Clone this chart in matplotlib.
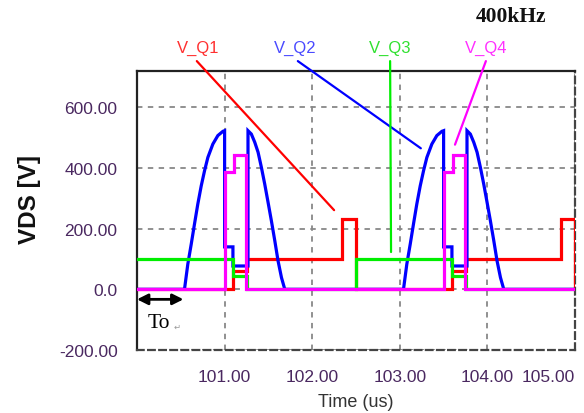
import numpy as np
import matplotlib
matplotlib.use("Agg")
import matplotlib.pyplot as plt

# switching period at 400 kHz, in us
period = 2.5

# one switching cycle of each drain-source voltage (time in us, volts)
q1_t = [100.0, 101.095, 101.095, 101.255, 101.255, 102.34, 102.34, 102.5, 102.5]
q1_v = [0, 0, 60, 60, 100, 100, 232, 232, 0]

q2_t = [100.0, 100.542, 100.58, 100.619, 100.656, 100.694, 100.733, 100.771, 100.809,
        100.866, 100.923, 100.981, 101.0, 101.0, 101.095, 101.095, 101.267, 101.267,
        101.305, 101.344, 101.382, 101.42, 101.458, 101.496, 101.534, 101.573, 101.61,
        101.649, 101.687, 102.5]
q2_v = [0, 0, 83, 149, 215, 281, 341, 391, 435,
        479, 507, 521, 523, 140, 140, 77, 77, 523,
        512, 485, 452, 402, 347, 287, 226, 160, 94,
        39, 0, 0]

q3_t = [100.0, 101.095, 101.095, 101.25, 101.25, 102.5]
q3_v = [101, 101, 44, 44, 0, 0]

q4_t = [100.0, 101.008, 101.008, 101.103, 101.103, 101.248, 101.248, 102.5]
q4_v = [0, 0, 386, 386, 444, 444, 0, 0]

cycles = [0, 1]

x_ticks = [101, 102, 103, 104, 105]
x_labels = ["101.00", "102.00", "103.00", "104.00", "105.00"]
y_ticks = [-200, 0, 200, 400, 600]
y_labels = ["-200.00", "0.0", "200.00", "400.00", "600.00"]

# where each trace name points to on its waveform
names = ["V_Q1", "V_Q2", "V_Q3", "V_Q4"]
name_colors = ["#ff3030", "#4a4aff", "#30e030", "#ff30ff"]
line_colors = ["#ff0000", "#0000ff", "#00ee00", "#ff00ff"]
pointer_t = [102.25, 103.24, 102.90, 103.63]
pointer_v = [261, 465, 123, 477]


def repeat(t, v):
    tt, vv = [], []
    for k in cycles:
        tt.extend(np.array(t) + k * period)
        vv.extend(v)
    return tt, vv


fig = plt.figure(figsize=(5.84, 4.14), dpi=100)
ax = fig.add_axes([0.2346, 0.1522, 0.75, 0.674])

traces = [(q1_t, q1_v), (q2_t, q2_v), (q3_t, q3_v), (q4_t, q4_v)]
for i, ((t, v), c) in enumerate(zip(traces, line_colors)):
    tt, vv = repeat(t, v)
    ax.plot(tt, vv, color=c, lw=2.3, solid_joinstyle="miter", zorder=3 + i)

ax.set_xlim(100, 105)
ax.set_ylim(-200, 720)
ax.set_xticks(x_ticks)
ax.set_xticklabels(x_labels)
ax.set_yticks(y_ticks)
ax.set_yticklabels(y_labels)
ax.tick_params(length=0, labelsize=12.5, labelcolor="#4a2860")
ax.tick_params(axis="x", pad=14)
ax.tick_params(axis="y", pad=14)
for lab in ax.get_xticklabels() + ax.get_yticklabels():
    lab.set_family("Liberation Sans")
ax.get_xticklabels()[-1].set_ha("right")

ax.grid(True, color="#888888", ls=(0, (3, 3)), lw=1.3)
for side in ["top", "left"]:
    ax.spines[side].set_color("#222222")
    ax.spines[side].set_linewidth(1.6)
for side in ["bottom", "right"]:
    ax.spines[side].set_color("#444444")
    ax.spines[side].set_linewidth(1.6)
    ax.spines[side].set_linestyle((0, (3, 2)))

ax.set_xlabel("Time (us)", family="Liberation Sans", fontsize=13, color="#333333", labelpad=6)
fig.text(0.05, 0.517, "VDS [V]", rotation=90, ha="center", va="center",
         family="Liberation Sans", fontweight="bold", fontsize=17.5, color="#111111")

# trace names with leader lines
label_x = [0.339, 0.505, 0.668, 0.832]
line_x = [0.337, 0.510, 0.668, 0.832]
for name, c, lc, lx, sx, pt, pv in zip(names, name_colors, line_colors, label_x, line_x,
                                       pointer_t, pointer_v):
    fig.text(lx, 0.882, name, color=c, ha="center", va="center",
             family="Liberation Sans", fontsize=12)
    ax.annotate("", xy=(pt, pv), xycoords="data", xytext=(sx, 0.850),
                textcoords="figure fraction", annotation_clip=False,
                arrowprops=dict(arrowstyle="-", color=lc, lw=1.6, shrinkA=0, shrinkB=0))

fig.text(0.875, 0.958, "400kHz", ha="center", va="center", family="Liberation Serif",
         fontweight="bold", fontsize=15.5, color="#111111")

# dead time marker
ax.annotate("", xy=(100.0, -33), xytext=(100.53, -33),
            arrowprops=dict(arrowstyle="<|-|>", color="black", lw=2,
                            mutation_scale=16, shrinkA=0, shrinkB=0), zorder=8)
ax.text(100.12, -109, "To", ha="left", va="center", family="Liberation Serif", fontsize=15.5)
ax.text(100.42, -122, "\u21b5", ha="left", va="center", fontsize=6, color="#999999")

fig.savefig("out.png", dpi=100)
